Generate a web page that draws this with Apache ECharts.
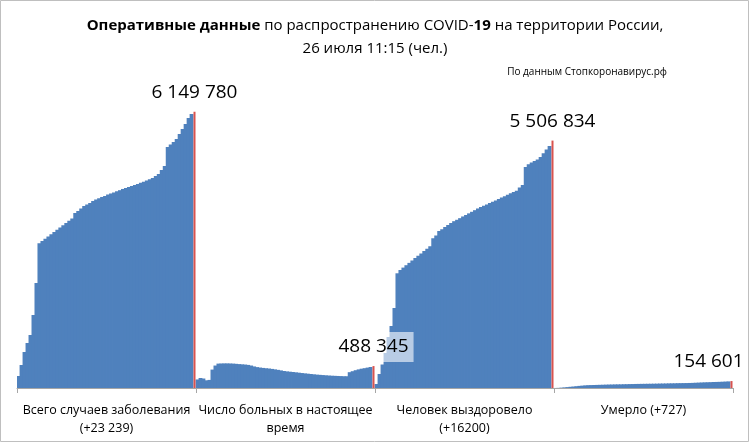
<!DOCTYPE html>
<html>
<head>
<meta charset="utf-8">
<script src="https://cdn.jsdelivr.net/npm/echarts@6/dist/echarts.min.js"></script>
<style>
html,body{margin:0;padding:0;background:#fff;}
#chart{width:750px;height:444px;}
</style>
</head>
<body>
<div id="chart"></div>
<script>
var categories = ['Всего случаев заболевания\n(+23 239)', 'Число больных в настоящее\nвремя', 'Человек выздоровело\n(+16200)', 'Умерло (+727)'];

var totalCases = [267000, 512000, 801000, 1002000, 1180000, 1625000, 2337000, 3221000, 3272000, 3321000, 3372000, 3421000, 3473000, 3522000, 3573000, 3622000, 3673000, 3722000, 3773000, 3896000, 3940000, 3996000, 4051000, 4085000, 4118000, 4163000, 4196000, 4223000, 4252000, 4274000, 4307000, 4330000, 4352000, 4379000, 4403000, 4430000, 4452000, 4474000, 4497000, 4519000, 4541000, 4568000, 4592000, 4619000, 4648000, 4675000, 4719000, 4764000, 4853000, 4942000, 5365000, 5420000, 5476000, 5543000, 5654000, 5765000, 5877000, 6010000, 6099000, 6149780];

var activeCases = [190000, 223000, 211000, 171000, 180000, 410000, 500000, 543000, 546000, 548000, 548000, 546000, 543000, 538000, 532000, 527000, 522000, 514000, 500000, 480000, 465000, 455000, 447000, 440000, 434000, 425000, 415000, 404000, 392000, 378000, 370000, 363000, 356000, 349000, 341000, 333000, 326000, 319000, 312000, 305000, 298000, 293000, 288000, 283000, 278000, 274000, 271000, 268000, 265000, 262000, 262000, 352000, 374000, 396000, 414000, 430000, 441000, 454000, 467000, 488345];

var recovered = [89000, 312000, 523000, 779000, 1135000, 1380000, 1781000, 2553000, 2627000, 2680000, 2733000, 2785000, 2838000, 2892000, 2943000, 2996000, 3050000, 3101000, 3154000, 3332000, 3395000, 3495000, 3535000, 3584000, 3628000, 3673000, 3713000, 3744000, 3780000, 3818000, 3851000, 3887000, 3922000, 3958000, 3996000, 4029000, 4058000, 4087000, 4118000, 4147000, 4176000, 4205000, 4238000, 4269000, 4301000, 4332000, 4363000, 4392000, 4463000, 4519000, 4919000, 4980000, 5020000, 5053000, 5086000, 5142000, 5224000, 5309000, 5387000, 5506834];

var deaths = [1000, 3000, 8000, 14000, 20000, 27000, 33000, 40000, 47000, 53000, 59000, 63000, 65000, 67000, 69000, 71000, 73000, 75000, 77000, 78000, 80000, 81000, 82000, 84000, 85000, 87000, 88000, 90000, 91000, 92000, 93000, 94000, 95000, 96000, 97000, 99000, 100000, 101000, 103000, 104000, 105000, 107000, 108000, 109000, 110000, 112000, 114000, 117000, 120000, 123000, 126000, 128000, 130000, 133000, 135000, 137000, 140000, 143000, 147000, 154601];

var groups = [totalCases, activeCases, recovered, deaths];

function fmt(v){ return String(v).replace(/\B(?=(\d{3})+(?!\d))/g, ' '); }

var slots = [];
var blueData = [];
var redData = [];
groups.forEach(function(g, gi){
  g.forEach(function(v, i){
    slots.push(gi + '_' + i);
    var last = (i === g.length - 1);
    blueData.push(last ? '-' : v);
    if (last) {
      var item = {value: v, label: {show: true}};
      if (gi === 3) item.label.offset = [-23, 0];
      redData.push(item);
    } else {
      redData.push('-');
    }
  });
});

var FONT = 'Open Sans';
var chart = echarts.init(document.getElementById('chart'), null, {renderer: 'canvas'});
chart.setOption({
  animation: false,
  backgroundColor: '#fff',
  title: {
    text: '{b|Оперативные данные} по распространению COVID-{b|19} на территории России,\n26 июля 11:15 (чел.)',
    left: 'center',
    top: 9,
    textStyle: {
      fontFamily: FONT, fontSize: 15, fontWeight: 'normal', color: '#000', lineHeight: 23, align: 'center',
      rich: { b: {fontFamily: FONT, fontSize: 15, fontWeight: 'bold', color: '#000', lineHeight: 23} }
    }
  },
  graphic: [
    {type: 'rect', shape: {x: 0.5, y: 0.5, width: 748, height: 441}, style: {fill: 'none', stroke: '#bfbfbf', lineWidth: 1}, silent: true, z: 100},
    {type: 'text', x: 667, y: 72, style: {text: 'По данным Стопкоронавирус.рф', font: '10px "Open Sans"', fill: '#000', textAlign: 'right', textVerticalAlign: 'middle'}}
  ],
  grid: {left: 17, right: 17, top: 73.5, bottom: 56, containLabel: false},
  xAxis: [
    {type: 'category', data: slots, show: false, boundaryGap: true},
    {type: 'category', data: categories, position: 'bottom', boundaryGap: true,
     axisLine: {lineStyle: {color: '#a6a6a6', width: 1}},
     axisTick: {show: true, length: 5, lineStyle: {color: '#a6a6a6'}},
     axisLabel: {interval: 0, color: '#000', fontFamily: FONT, fontSize: 12.5, lineHeight: 18, margin: 13}},
    {type: 'category', data: slots, show: false, boundaryGap: true}
  ],
  yAxis: {type: 'value', min: 0, max: 7000000, show: false, splitLine: {show: false}},
  series: [
    {type: 'bar', xAxisIndex: 0, data: blueData, barWidth: 3.8,
     itemStyle: {color: '#4f81bd'}},
    {type: 'bar', xAxisIndex: 2, data: redData, barWidth: 2,
     itemStyle: {color: '#d9534f'},
     label: {show: false, position: 'top', distance: 4, color: '#000', fontFamily: FONT, fontSize: 19, lineHeight: 20,
             padding: [5, 5, 5, 5], backgroundColor: 'rgba(255,255,255,0.6)',
             formatter: function(p){ return fmt(p.value); }}}
  ]
});
</script>
</body>
</html>
